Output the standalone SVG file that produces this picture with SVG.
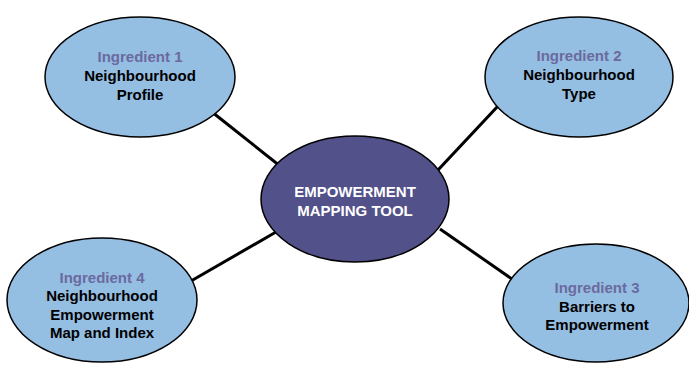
<svg xmlns="http://www.w3.org/2000/svg" width="689" height="367" viewBox="0 0 689 367">
  <style>
    .sat { fill: #95bee3; stroke: #000; stroke-width: 1.5; }
    .hub { fill: #52518a; stroke: #000; stroke-width: 1.5; }
    .link { stroke: #000; stroke-width: 3; fill: none; }
    text { font-family: "Liberation Sans", Arial, sans-serif; font-size: 15px; font-weight: bold; text-anchor: middle; }
    .tag { fill: #6b6a9f; }
    .lbl { fill: #000; }
    .hubtxt { fill: #fff; }
  </style>
  <rect width="689" height="367" fill="#fff"/>
  <g id="connectors">
    <line class="link" x1="212" y1="112" x2="280" y2="166"/>
    <line class="link" x1="498" y1="106" x2="438" y2="170"/>
    <line class="link" x1="191" y1="281" x2="276" y2="232"/>
    <line class="link" x1="512" y1="279" x2="440" y2="229"/>
  </g>
  <g id="ingredient1">
    <ellipse class="sat" cx="140" cy="77" rx="95" ry="60"/>
    <text x="140" y="62" class="tag">Ingredient 1</text>
    <text x="140" y="81" class="lbl">Neighbourhood</text>
    <text x="140" y="100" class="lbl">Profile</text>
  </g>
  <g id="ingredient2">
    <ellipse class="sat" cx="579" cy="77" rx="94" ry="60"/>
    <text x="579" y="61" class="tag">Ingredient 2</text>
    <text x="579" y="80" class="lbl">Neighbourhood</text>
    <text x="579" y="99" class="lbl">Type</text>
  </g>
  <g id="hub">
    <ellipse class="hub" cx="355" cy="199" rx="94" ry="63"/>
    <text x="355" y="197" class="hubtxt">EMPOWERMENT</text>
    <text x="355" y="216" class="hubtxt">MAPPING TOOL</text>
  </g>
  <g id="ingredient4">
    <ellipse class="sat" cx="102" cy="300" rx="95" ry="62"/>
    <text x="102" y="283" class="tag">Ingredient 4</text>
    <text x="102" y="301" class="lbl">Neighbourhood</text>
    <text x="102" y="320" class="lbl">Empowerment</text>
    <text x="102" y="338" class="lbl">Map and Index</text>
  </g>
  <g id="ingredient3">
    <ellipse class="sat" cx="596" cy="303" rx="93" ry="59"/>
    <text x="597" y="293" class="tag">Ingredient 3</text>
    <text x="597" y="312" class="lbl">Barriers to</text>
    <text x="597" y="330" class="lbl">Empowerment</text>
  </g>
</svg>
